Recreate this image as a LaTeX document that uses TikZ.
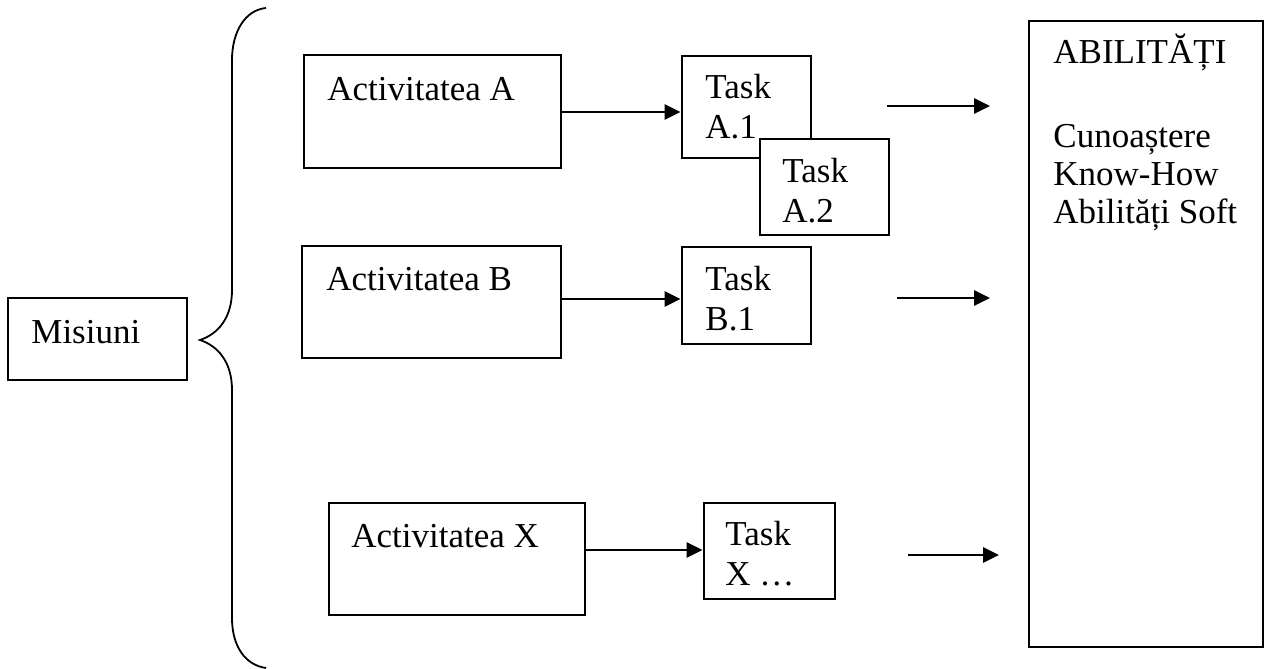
\documentclass[tikz,border=0pt]{standalone}
\usepackage{fontspec}
\setmainfont{Liberation Serif}
\usetikzlibrary{arrows.meta,fit}
\begin{document}
\begin{tikzpicture}[x=0.5pt,y=-0.5pt,
  box/.style={draw,line width=1.4pt,inner sep=0pt,fill=white},
  lbl/.style={anchor=base west,inner sep=0pt,align=left,
              font=\fontsize{17.5pt}{20pt}\selectfont},
  conn/.style={line width=1.4pt,-{Triangle[length=8pt,width=7.5pt]}},
  bracepath/.style={line width=0.9pt}]
\useasboundingbox (0,0) rectangle (1265,669);

% boxes
\node[box,fit={(8,298) (187,380)}] (mis) {};
\node[box,fit={(304,55) (561,168)}] (actA) {};
\node[box,fit={(682,56) (811,158)}] (tA1) {};
\node[box,fit={(760,139) (889,235)}] (tA2) {};
\node[box,fit={(302,246) (561,358)}] (actB) {};
\node[box,fit={(682,247) (811,344)}] (tB1) {};
\node[box,fit={(329,503) (585,615)}] (actX) {};
\node[box,fit={(704,503) (835,599)}] (tX) {};
\node[box,fit={(1029,21) (1263,647)}] (abil) {};

% labels (multi-line labels are placed by the baseline of their last line)
\node[lbl] (misT) at (31,343) {Misiuni};
\node[lbl] (actAT) at (327,100) {Activitatea A};
\node[lbl] (tA1T) at (705,138) {Task\\A.1};
\node[lbl] (tA2T) at (782,222) {Task\\A.2};
\node[lbl] (actBT) at (326,290) {Activitatea B};
\node[lbl] (tB1T) at (705,330) {Task\\B.1};
\node[lbl] (actXT) at (351,547) {Activitatea X};
\node[lbl] (tXT) at (725,585) {Task\\X …};
\node[lbl,font=\fontsize{17.5pt}{19pt}\selectfont] (abilT) at (1053,223)
  {ABILITĂȚI\\[23pt]Cunoaștere\\Know-How\\Abilități Soft};

% brace
\draw[bracepath] (266,8) .. controls (245,10) and (232,32) .. (232,60)
  -- (232,290) .. controls (232,318) and (218,334) .. (200,340)
  .. controls (218,346) and (232,362) .. (232,390)
  -- (232,618) .. controls (232,646) and (245,665) .. (266,668);

% activity to task
\draw[conn] (actA.east |- 0,112) -- (tA1.west |- 0,112);
\draw[conn] (actB.east |- 0,299) -- (tB1.west |- 0,299);
\draw[conn] (actX.east |- 0,550) -- (tX.west |- 0,550);

% arrows towards the skills box
\coordinate (f1s) at (887,106);
\coordinate (f1e) at (990,106);
\coordinate (f2s) at (897,298);
\coordinate (f2e) at (990,298);
\coordinate (f3s) at (908,555);
\coordinate (f3e) at (999,555);
\draw[conn] (f1s) -- (f1e);
\draw[conn] (f2s) -- (f2e);
\draw[conn] (f3s) -- (f3e);
\end{tikzpicture}
\end{document}
